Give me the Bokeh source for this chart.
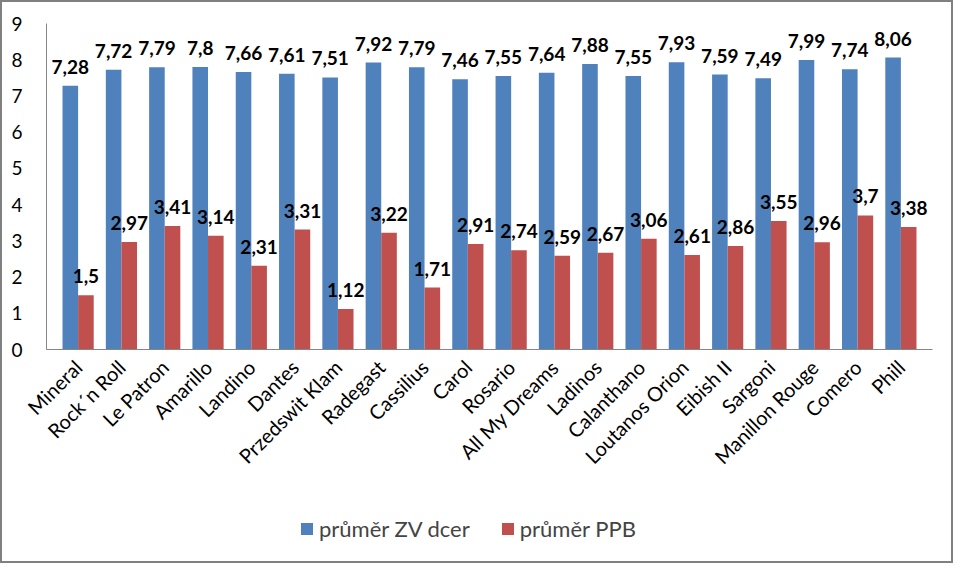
from bokeh.plotting import figure
from bokeh.models import FactorRange, ColumnDataSource, Legend, LegendItem, FixedTicker, LabelSet
from bokeh.layouts import column
from bokeh.transform import dodge
from bokeh.core.properties import value
from bokeh.embed import file_html
from bokeh.resources import INLINE
import math

categories = ["Mineral", "Rock´n Roll", "Le Patron", "Amarillo", "Landino", "Dantes",
              "Przedswit Klam", "Radegast", "Cassilius", "Carol", "Rosario", "All My Dreams",
              "Ladinos", "Calanthano", "Loutanos Orion", "Eibish II", "Sargoni",
              "Manillon Rouge", "Comero", "Phill"]
zv_dcer = [7.28, 7.72, 7.79, 7.8, 7.66, 7.61, 7.51, 7.92, 7.79, 7.46, 7.55, 7.64,
           7.88, 7.55, 7.93, 7.59, 7.49, 7.99, 7.74, 8.06]
ppb = [1.5, 2.97, 3.41, 3.14, 2.31, 3.31, 1.12, 3.22, 1.71, 2.91, 2.74, 2.59,
       2.67, 3.06, 2.61, 2.86, 3.55, 2.96, 3.7, 3.38]
series_names = ["průměr ZV dcer", "průměr PPB"]
y_ticks = [0, 1, 2, 3, 4, 5, 6, 7, 8, 9]

def fmt(v):
    return ("%g" % v).replace(".", ",")

src = ColumnDataSource(dict(
    cat=categories, zv=zv_dcer, ppb=ppb,
    zv_lbl=[fmt(v) for v in zv_dcer], ppb_lbl=[fmt(v) for v in ppb],
))

FONT = "Lato"
BLUE = "#4F81BD"
RED = "#C0504D"
colors = [BLUE, RED]

x_range = FactorRange(factors=categories, range_padding=0.23, range_padding_units="absolute")
p = figure(x_range=x_range, y_range=(0, 9),
           width=949, height=477, output_backend="svg", toolbar_location=None,
           min_border_left=44, min_border_right=19, min_border_top=21, min_border_bottom=117)
p.outline_line_color = None
p.grid.grid_line_color = None
p.background_fill_color = "white"

p.vbar(x=dodge("cat", -0.18, range=p.x_range), top="zv", width=0.36, source=src,
       fill_color=BLUE, line_color=None)
p.vbar(x=dodge("cat", 0.18, range=p.x_range), top="ppb", width=0.36, source=src,
       fill_color=RED, line_color=None)

for xo, col in ((-0.18, "zv"), (0.18, "ppb")):
    labels = LabelSet(x=dodge("cat", xo, range=p.x_range), y=col, text=col + "_lbl",
                      source=src, text_align="center", text_baseline="bottom", y_offset=12,
                      text_font=value(FONT), text_font_size=value("19px"),
                      text_font_style=value("bold"), text_color=value("black"))
    p.add_layout(labels)

p.yaxis.ticker = FixedTicker(ticks=y_ticks)
p.yaxis.major_label_text_font = FONT
p.yaxis.major_label_text_font_size = "19px"
p.yaxis.major_label_text_color = "black"
p.yaxis.major_tick_line_color = None
p.yaxis.minor_tick_line_color = None
p.yaxis.axis_line_color = "#868686"
p.yaxis.major_label_standoff = 18

p.xaxis.major_label_orientation = math.pi / 4
p.xaxis.major_label_text_font = FONT
p.xaxis.major_label_text_font_size = "20px"
p.xaxis.major_label_text_color = "black"
p.xaxis.major_tick_line_color = None
p.xaxis.axis_line_color = "#868686"
p.xaxis.major_label_standoff = 8

# legend strip below the chart (zero-area bars only serve as legend swatches)
q = figure(x_range=(0, 1), y_range=(0, 1), width=949, height=82,
           output_backend="svg", toolbar_location=None,
           min_border_left=0, min_border_right=0, min_border_top=0, min_border_bottom=0)
q.axis.visible = False
q.grid.visible = False
q.outline_line_color = None
items = []
for name, c in zip(series_names, colors):
    r = q.vbar(x=[0], top=[0], width=0, fill_color=c, line_color=None)
    items.append(LegendItem(label=name, renderers=[r]))
legend = Legend(items=items, orientation="horizontal", location=(253, 19), margin=0,
                label_text_font=FONT, label_text_font_size="22px",
                glyph_width=15, glyph_height=15, label_standoff=5, spacing=30,
                border_line_color=None, background_fill_alpha=0)
q.add_layout(legend, "center")

layout = column(p, q, spacing=0, styles={"border": "2px solid #808080"})
open("out.html", "w").write(file_html(layout, INLINE))
